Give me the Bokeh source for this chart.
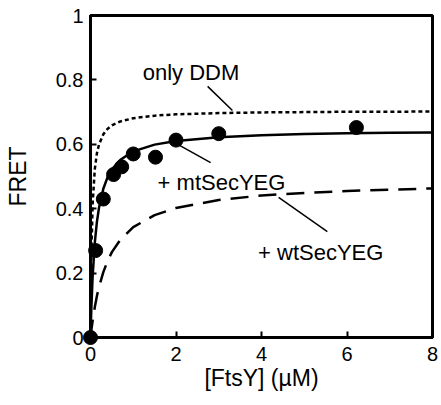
from bokeh.plotting import figure
from bokeh.models import Range1d, FixedTicker
from bokeh.core.properties import value
from bokeh.embed import file_html
from bokeh.resources import INLINE

# measured points (+ mtSecYEG)
pts_x = [0, 0.12, 0.3, 0.54, 0.73, 1.0, 1.52, 2.0, 3.0, 6.22]
pts_y = [0, 0.27, 0.43, 0.506, 0.53, 0.57, 0.56, 0.613, 0.633, 0.652]

# fitted curves
curve_x = [0, 0.01, 0.02, 0.05, 0.1, 0.15, 0.2, 0.3, 0.4, 0.5, 0.7, 1.0, 1.5, 2, 3, 4, 5, 6, 7, 8]
mt_y = [0, 0.05, 0.092, 0.19, 0.294, 0.359, 0.404, 0.462, 0.498, 0.522, 0.552, 0.578, 0.599,
        0.61, 0.622, 0.628, 0.632, 0.634, 0.636, 0.637]
ddm_y = [0, 0.157, 0.256, 0.415, 0.522, 0.572, 0.6, 0.631, 0.648, 0.659, 0.671, 0.681, 0.689,
         0.693, 0.697, 0.699, 0.7, 0.701, 0.701, 0.702]
wt_y = [0, 0.011, 0.023, 0.052, 0.094, 0.129, 0.157, 0.203, 0.238, 0.265, 0.304, 0.343, 0.38,
        0.402, 0.427, 0.441, 0.449, 0.455, 0.459, 0.463]

labels = ["only DDM", "+ mtSecYEG", "+ wtSecYEG"]
label_x = [1.22, 1.57, 3.92]
label_y = [0.823, 0.48, 0.264]
lead_x0 = [2.74, 2.01, 4.4]
lead_y0 = [0.78, 0.602, 0.435]
lead_x1 = [3.32, 2.81, 5.54]
lead_y1 = [0.705, 0.543, 0.329]

x_ticks = [0, 2, 4, 6, 8]
y_ticks = [0, 0.2, 0.4, 0.6, 0.8, 1]
y_tick_labels = {0: "0", 0.2: "0.2", 0.4: "0.4", 0.6: "0.6", 0.8: "0.8", 1: "1"}

FONT = "Liberation Sans"

p = figure(width=441, height=405, output_backend="svg", toolbar_location=None,
           x_range=Range1d(0, 8), y_range=Range1d(0, 1),
           min_border_left=90, min_border_right=9, min_border_top=15, min_border_bottom=68)
p.grid.visible = False
p.background_fill_color = "white"
p.border_fill_color = "white"
p.outline_line_color = "black"
p.outline_line_width = 3

for ax in (p.xaxis[0], p.yaxis[0]):
    ax.axis_line_width = 3
    ax.major_tick_line_width = 2
    ax.major_tick_in = 6
    ax.major_tick_out = 0
    ax.minor_tick_line_color = None
    ax.major_label_text_font = FONT
    ax.major_label_text_font_size = "20px"
    ax.major_label_text_color = "#000000"
    ax.axis_label_text_font = FONT
    ax.axis_label_text_font_size = "23px"
    ax.axis_label_text_font_style = "normal"
    ax.axis_label_text_color = "#000000"

p.xaxis.ticker = FixedTicker(ticks=x_ticks)
p.yaxis.ticker = FixedTicker(ticks=y_ticks)
p.yaxis.major_label_overrides = y_tick_labels
p.xaxis.axis_label = "[FtsY] (µM)"
p.yaxis.axis_label = "FRET"
p.xaxis.major_label_standoff = 9
p.xaxis.axis_label_standoff = 1
p.yaxis.major_label_standoff = 7
p.yaxis.axis_label_standoff = 22

p.line(curve_x, ddm_y, line_color="black", line_width=2.5, line_dash="4 3")
p.line(curve_x, wt_y, line_color="black", line_width=2.5, line_dash="18 10")
p.line(curve_x, mt_y, line_color="black", line_width=2.5)
p.segment(lead_x0, lead_y0, lead_x1, lead_y1, line_color="black", line_width=1.5)
p.scatter(pts_x, pts_y, size=14, fill_color="black", line_color="black", level="overlay")
p.text(label_x, label_y, text=labels, text_font=value(FONT), text_font_size="22px",
       text_color="black", text_baseline="alphabetic")

open("out.html", "w").write(file_html(p, INLINE))
